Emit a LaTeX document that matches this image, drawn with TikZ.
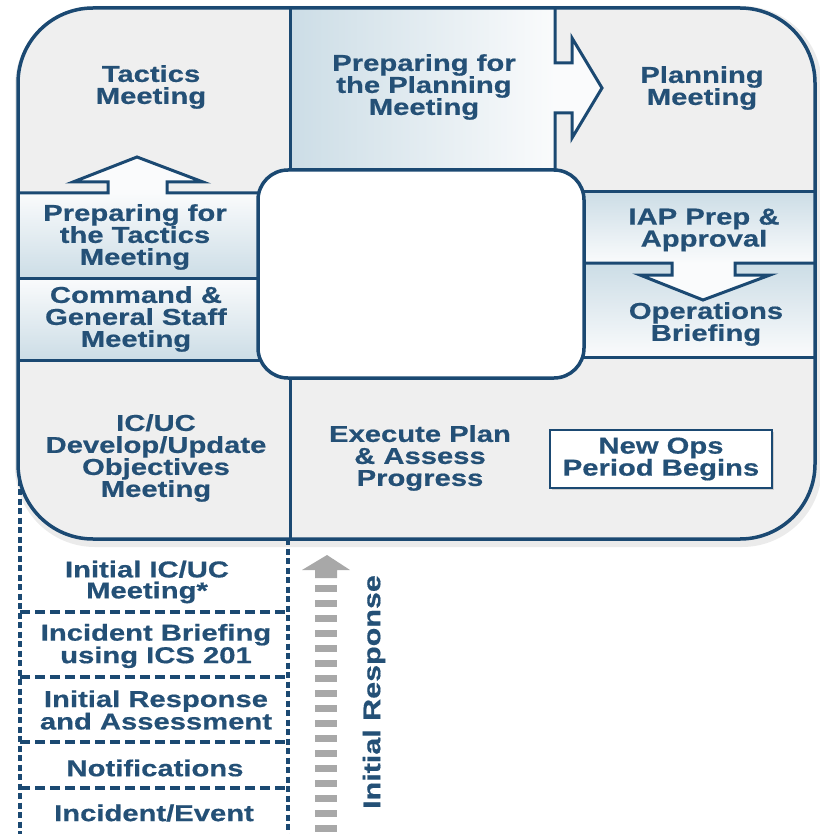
\documentclass[tikz,border=0pt]{standalone}
\usepackage{fontspec}
\newfontfamily\boxfont{Liberation Sans}[FakeStretch=1.27, FakeBold=0.6]
\usetikzlibrary{shadows}
\definecolor{navy}{RGB}{27,73,114}
\definecolor{inktext}{RGB}{36,80,118}
\definecolor{panelgray}{RGB}{239,239,239}
\definecolor{paleblue}{RGB}{204,221,230}
\definecolor{shadewhite}{RGB}{250,251,252}
\definecolor{arrowgray}{RGB}{168,168,168}

\begin{document}
\begin{tikzpicture}
[
    x = 1pt, y = -1pt,
    boxtext/.style = {text = inktext, align = center, inner sep = 0pt,
        font = \boxfont\bfseries\fontsize{23}{22}\selectfont},
    listtext/.style = {boxtext, font = \boxfont\bfseries\fontsize{23}{21}\selectfont},
    rim/.style = {draw = navy, line width = 3.5pt},
    divider/.style = {navy, line width = 3pt},
    dashdown/.style = {navy, line width = 3.5pt, dash pattern = on 6pt off 3.5pt},
    dashacross/.style = {navy, line width = 3.5pt, dash pattern = on 10pt off 5pt},
]
\useasboundingbox (0,0) rectangle (819,834);

\draw[black!8, line width = 10pt, rounded corners = 75pt] (20,11) rectangle (817,542);
\draw[dashdown] (20,470) -- (20,834);
\draw[dashdown] (288,539) -- (288,834);
\foreach \y in {612,677,742,788}
    \draw[dashacross] (20,\y) -- (288,\y);

\fill[panelgray, rounded corners = 75pt] (18,8) rectangle (815,539);
\shade[left color = paleblue, right color = shadewhite] (290,8) rectangle (555,170);
\shade[top color = shadewhite, bottom color = paleblue] (18,193) rectangle (270,278);
\shade[top color = shadewhite, bottom color = paleblue] (18,278) rectangle (270,360);
\shade[top color = paleblue, bottom color = shadewhite] (575,192) rectangle (815,263);
\shade[top color = paleblue, bottom color = shadewhite] (575,263) rectangle (815,357);

\fill[shadewhite] (555,63) -- (572,63) -- (572,38) -- (602,88) -- (572,138) -- (572,113) -- (555,113) -- cycle;
\fill[shadewhite] (108,193) -- (108,182) -- (73,182) -- (137,157) -- (203,182) -- (167,182) -- (167,193) -- cycle;
\fill[shadewhite] (672,263) -- (672,275) -- (640,275) -- (703,300) -- (770,275) -- (735,275) -- (735,263) -- cycle;

\draw[divider] (290,8) -- (290,170);
\draw[divider] (555,8) -- (555,63) -- (572,63) -- (572,38) -- (602,88) -- (572,138) -- (572,113) -- (555,113) -- (555,170);
\draw[divider] (18,193) -- (108,193) -- (108,182) -- (73,182) -- (137,157) -- (203,182) -- (167,182) -- (167,193) -- (270,193);
\draw[divider] (18,278) -- (270,278);
\draw[divider] (18,360) -- (270,360);
\draw[divider] (575,192) -- (815,192);
\draw[divider] (575,263) -- (672,263) -- (672,275) -- (640,275) -- (703,300) -- (770,275) -- (735,275) -- (735,263) -- (815,263);
\draw[divider] (575,357) -- (815,357);
\draw[divider] (290,378) -- (290,539);

\filldraw[fill = white, rim, rounded corners = 30pt] (258,170) rectangle (584,378);
\draw[rim, rounded corners = 75pt] (18,8) rectangle (815,539);

\node[boxtext] (tactics) at (151,87) {Tactics\\Meeting};
\node[boxtext] (prepplan) at (424,87) {Preparing for\\the Planning\\Meeting};
\node[boxtext] (planning) at (702,88) {Planning\\Meeting};
\node[boxtext] (preptac) at (135,237) {Preparing for\\the Tactics\\Meeting};
\node[boxtext] (cgs) at (136,319) {Command \&\\General Staff\\Meeting};
\node[boxtext] (iap) at (704,230) {IAP Prep \&\\Approval};
\node[boxtext] (opsbrief) at (706,324) {Operations\\Briefing};
\node[boxtext] (objectives) at (156,458) {IC/UC\\Develop/Update\\Objectives\\Meeting};
\node[boxtext] (execute) at (420,458) {Execute Plan\\\& Assess\\Progress};
\node[boxtext, draw = navy, line width = 2pt, fill = white,
    minimum width = 222pt, minimum height = 58pt,
    drop shadow = {shadow xshift = 2pt, shadow yshift = -2pt, opacity = 0.3}]
    (newops) at (661,459) {New Ops\\Period Begins};

\node[listtext] (icmeeting) at (147,582) {Initial IC/UC\\Meeting*};
\node[listtext] (briefing) at (156,646) {Incident Briefing\\using ICS 201};
\node[listtext] (assess) at (156,710) {Initial Response\\and Assessment};
\node[listtext] (notify) at (155,768) {Notifications};
\node[listtext] (incident) at (154,813) {Incident/Event};

\fill[arrowgray] (327,555) -- (350,570) -- (337,570) -- (337,578) -- (315,578) -- (315,570) -- (302,570) -- cycle;
\foreach \y in {585,600,...,825}
    \fill[arrowgray] (315,\y) rectangle (337,\y+7);
\node[boxtext, rotate = 90, font = \boxfont\bfseries\fontsize{24}{24}\selectfont]
    (response) at (374,692) {Initial Response};
\end{tikzpicture}
\end{document}
